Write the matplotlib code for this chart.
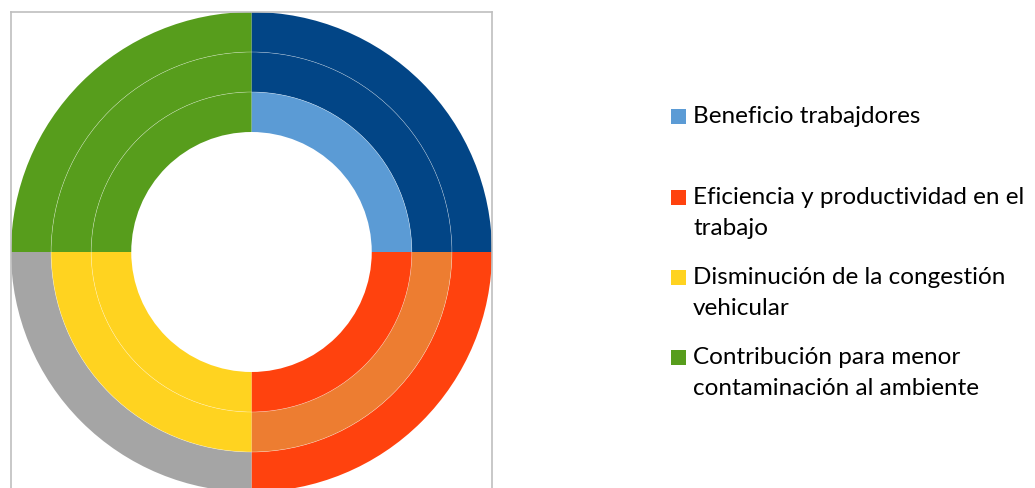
import matplotlib
matplotlib.use("Agg")
import matplotlib.pyplot as plt
from matplotlib.patches import Rectangle

# legend categories
categories = ['Beneficio trabajdores',
              'Eficiencia y productividad en el\ntrabajo',
              'Disminución de la congestión\nvehicular',
              'Contribución para menor\ncontaminación al ambiente']
legend_colors = ['#5B9BD5', '#FF420E', '#FFD320', '#579D1C']

# three rings, outer to inner, each with four equal parts
outer_vals = [25, 25, 25, 25]
middle_vals = [25, 25, 25, 25]
inner_vals = [25, 25, 25, 25]
outer_colors = ['#024586', '#FF420E', '#A5A5A5', '#579D1C']
middle_colors = ['#024586', '#ED7D31', '#FFD320', '#579D1C']
inner_colors = ['#5B9BD5', '#FF420E', '#FFD320', '#579D1C']

W, H = 1035, 488
fig = plt.figure(figsize=(W / 100, H / 100), dpi=100)
ax = fig.add_axes([11 / W, -4 / H, 481 / W, 480 / H])

ring_w = 40 / 240
for vals, cols, r in [(outer_vals, outer_colors, 1.0),
                      (middle_vals, middle_colors, 200 / 240),
                      (inner_vals, inner_colors, 160 / 240)]:
    ax.pie(vals, colors=cols, radius=r, startangle=90, counterclock=False,
           wedgeprops=dict(width=ring_w, linewidth=0), frame=True)

# faint white lines between rings
for r in [200 / 240, 160 / 240]:
    ax.add_patch(plt.Circle((0, 0), r, fill=False, edgecolor='white', linewidth=0.4, alpha=0.5))

ax.set_xlim(-1, 1)
ax.set_ylim(-1, 1)
ax.set_aspect('auto')
ax.set_xticks([])
ax.set_yticks([])
for s in ax.spines.values():
    s.set_visible(True)
    s.set_color('#BFBFBF')
    s.set_linewidth(1.2)
    s.set_zorder(5)

# legend drawn by hand, one line of text at a time
marker_y = [116, 197, 277, 357]
line_gap = 31
for lab, col, y in zip(categories, legend_colors, marker_y):
    fig.patches.append(Rectangle((671 / W, 1 - (y + 7.5) / H), 15 / W, 15 / H,
                                 transform=fig.transFigure, facecolor=col, edgecolor='none'))
    for k, line in enumerate(lab.split('\n')):
        fig.text(693 / W, 1 - (y + 7 + k * line_gap) / H, line, fontsize=17.5, family='Lato',
                 color='#000000', va='baseline', ha='left')

fig.savefig('out.png', dpi=100)
